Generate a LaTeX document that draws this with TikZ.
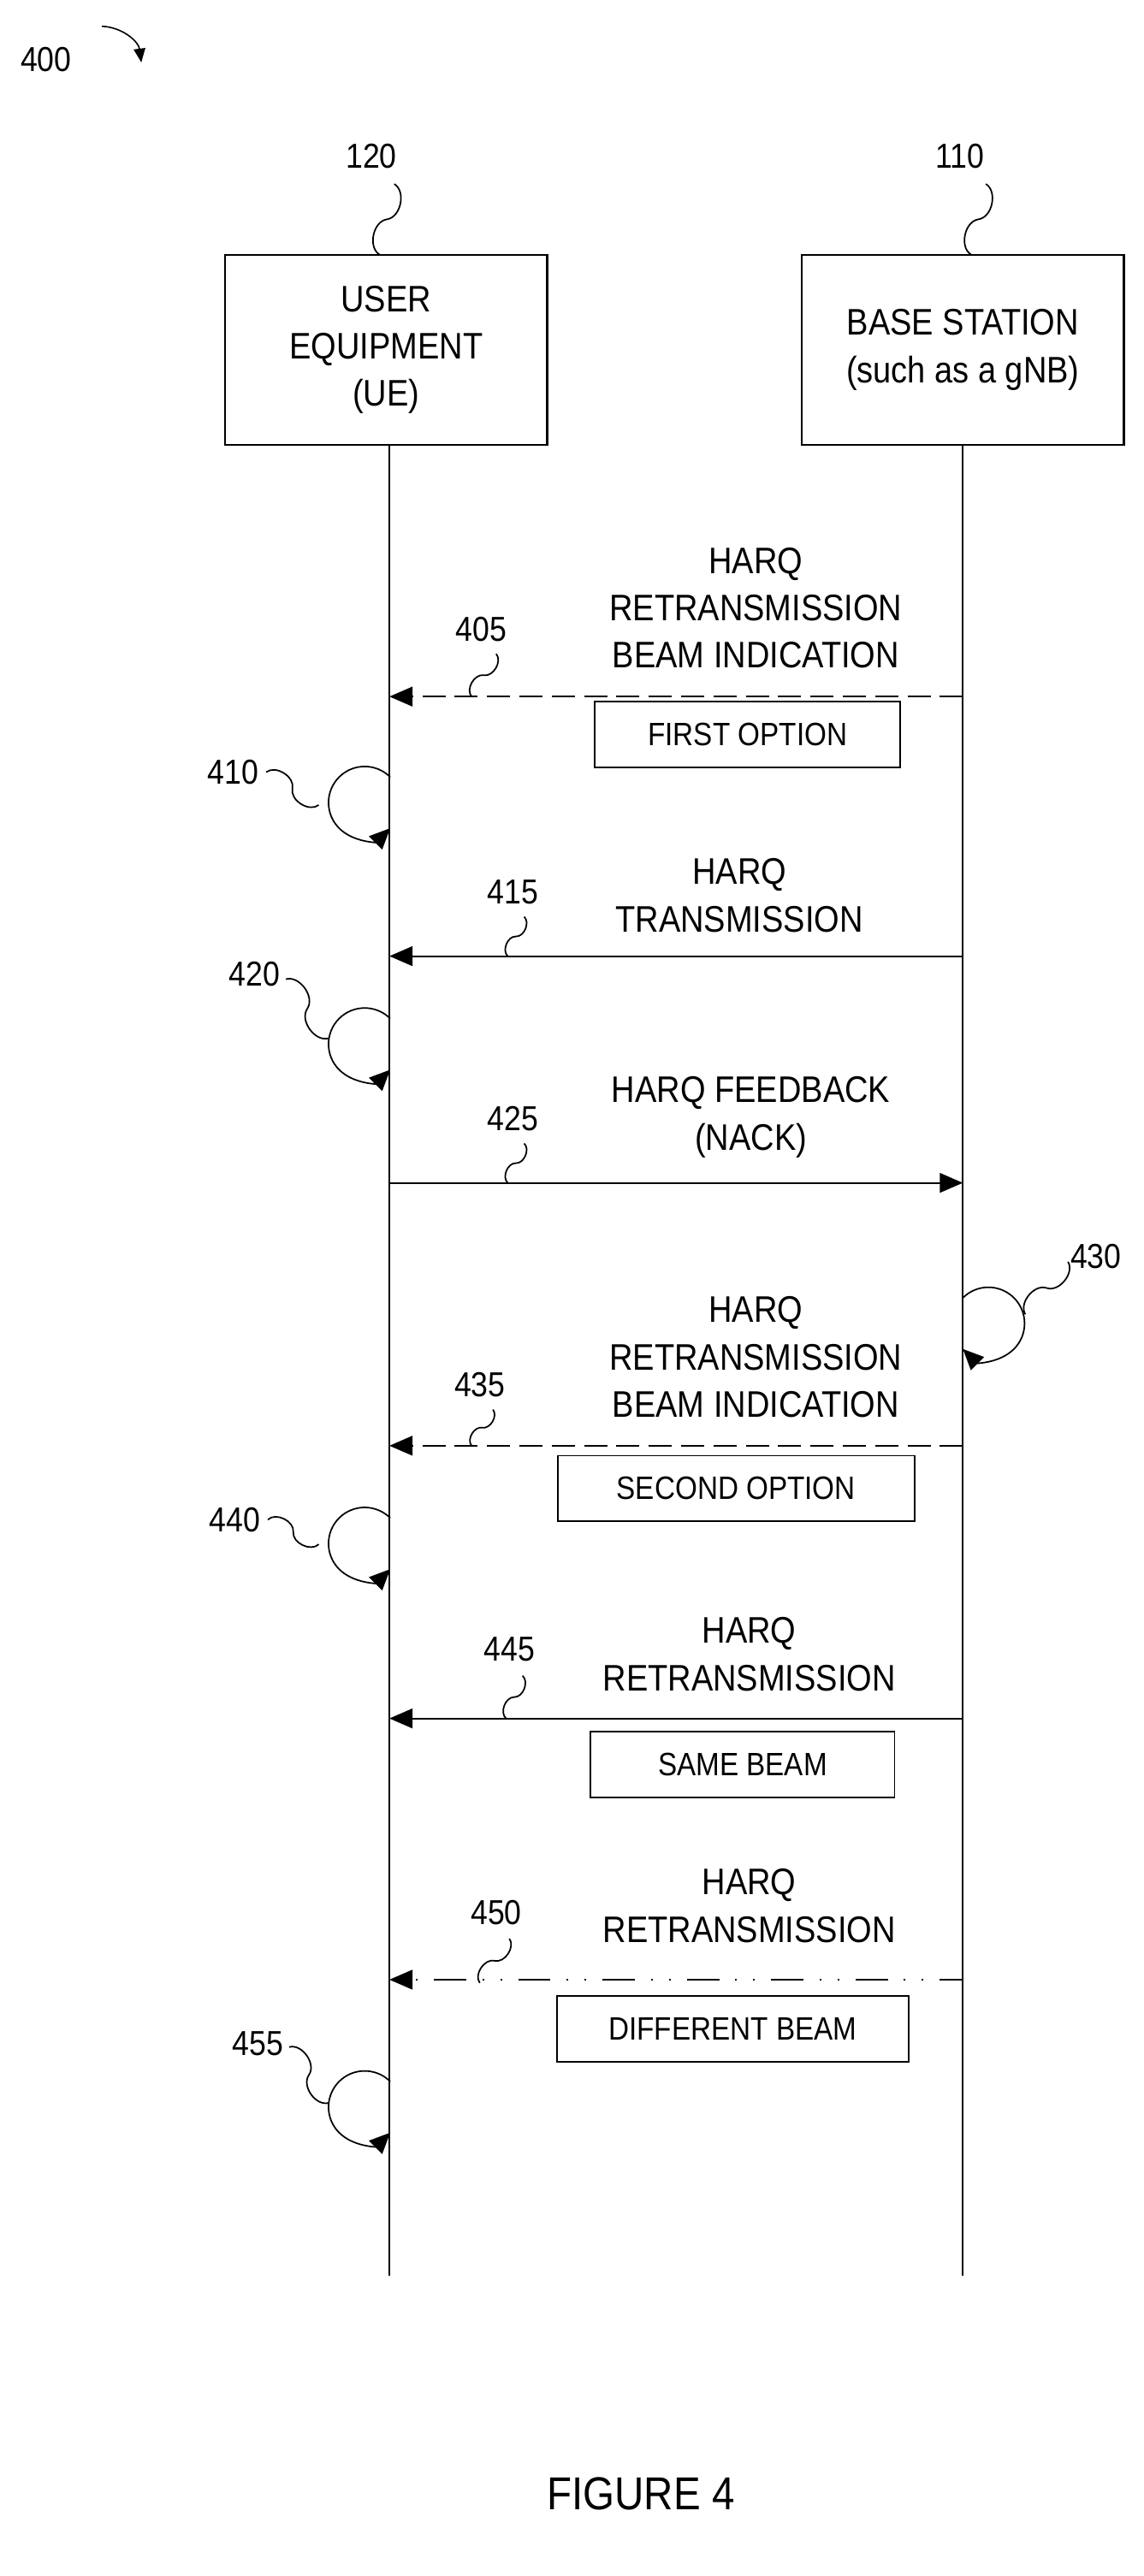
\documentclass[tikz,border=0pt]{standalone}
\usepackage{fontspec}
\setmainfont{Liberation Sans}[FakeStretch=0.88]
\usetikzlibrary{arrows.meta,positioning}
\tikzset{
  actor/.style={draw,line width=1.6pt,minimum width=196*0.05cm,minimum height=116*0.05cm,align=center,font=\fontsize{32}{41}\selectfont},
  life/.style={line width=1.4pt},
  msg/.style={line width=1.4pt,-{Triangle[length=20pt,width=17pt]}},
  txt/.style={align=center,font=\fontsize{32}{41}\selectfont,inner sep=0pt},
  opt/.style={draw,line width=1.3pt,minimum height=40*0.05cm,font=\fontsize{28}{34}\selectfont,text depth=0pt},
  num/.style={font=\fontsize{30}{34}\selectfont,inner sep=0pt},
  lead/.style={line width=1.3pt},
  self/.style={line width=1.3pt,-{Triangle[length=18pt,width=16pt]}}
}
\newcommand{\squig}[2]{\draw[lead] (#1) to[bend left=70] ($(#1)!0.5!(#2)$) to[bend right=70] (#2);}
\usetikzlibrary{calc}
\begin{document}
\begin{tikzpicture}[x=0.05cm,y=0.05cm]
    \useasboundingbox (0,0) rectangle (696,-1568);
    % actors
    \node[actor] (ue) at (235,-213) {USER\\EQUIPMENT\\(UE)};
    \node[actor] (bs) at (586,-213) {BASE STATION\\(such as a gNB)};
    \coordinate (ue-end) at (237,-1385);
    \coordinate (bs-end) at (586,-1385);
    \draw[life] (ue.south -| ue-end) -- (ue-end);
    \draw[life] (bs.south) -- (bs-end);
    \node[num] (n400) at (28,-36) {400};
    \draw[line width=1.2pt,-{Triangle[length=12pt,width=10pt]}] (62,-16) to[bend left=40] (86,-38);
    \node[num] (n120) at (226,-95) {120};
    \squig{240,-112}{231,-155}
    \node[num] (n110) at (584,-95) {110};
    \squig{600,-112}{591,-155}
    % 405
    \coordinate (m405-bs) at (586,-424);
    \coordinate (m405-ue) at (237,-424);
    \node[txt] (t405) at (460,-370) {HARQ\\RETRANSMISSION\\BEAM INDICATION};
    \draw[msg,dash pattern=on 20pt off 8pt] (m405-bs) -- (m405-ue);
    \node[opt,minimum width=186*0.05cm] (o405) at (455,-447) {FIRST OPTION};
    \node[num] (n405) at (293,-383) {405};
    \squig{302,-398}{287,-424}
    % 410
    \draw[self] (237.5,-473) arc[start angle=45,end angle=315,radius=22];
    \node[num] (n410) at (142,-470) {410};
    \squig{162,-470}{194,-490}
    % 415
    \coordinate (m415-bs) at (586,-582);
    \coordinate (m415-ue) at (237,-582);
    \node[txt] (t415) at (450,-545) {HARQ\\TRANSMISSION};
    \draw[msg] (m415-bs) -- (m415-ue);
    \node[num] (n415) at (312,-543) {415};
    \squig{319,-558}{309,-582}
    % 420
    \draw[self] (237.5,-620) arc[start angle=45,end angle=315,radius=22];
    \node[num] (n420) at (155,-593) {420};
    \squig{174,-596}{200,-632}
    % 425
    \coordinate (m425-ue) at (237,-720);
    \coordinate (m425-bs) at (586,-720);
    \node[txt] (t425) at (457,-680) {HARQ FEEDBACK\\(NACK)};
    \draw[msg] (m425-ue) -- (m425-bs);
    \node[num] (n425) at (312,-681) {425};
    \squig{319,-696}{309,-720}
    % 430
    \draw[self] (586,-790) arc[start angle=135,end angle=-135,radius=22];
    \node[num] (n430) at (667,-765) {430};
    \squig{650,-768}{624,-800}
    % 435
    \coordinate (m435-bs) at (586,-880);
    \coordinate (m435-ue) at (237,-880);
    \node[txt] (t435) at (460,-826) {HARQ\\RETRANSMISSION\\BEAM INDICATION};
    \draw[msg,dash pattern=on 20pt off 8pt] (m435-bs) -- (m435-ue);
    \node[opt,minimum width=217*0.05cm] (o435) at (448,-906) {SECOND OPTION};
    \node[num] (n435) at (292,-843) {435};
    \squig{300,-858}{287,-880}
    % 440
    \draw[self] (237.5,-924) arc[start angle=45,end angle=315,radius=22];
    \node[num] (n440) at (143,-925) {440};
    \squig{163,-925}{194,-940}
    % 445
    \coordinate (m445-bs) at (586,-1046);
    \coordinate (m445-ue) at (237,-1046);
    \node[txt] (t445) at (456,-1007) {HARQ\\RETRANSMISSION};
    \draw[msg] (m445-bs) -- (m445-ue);
    \node[opt,minimum width=185*0.05cm] (o445) at (452,-1074) {SAME BEAM};
    \node[num] (n445) at (310,-1004) {445};
    \squig{318,-1020}{308,-1046}
    % 450
    \coordinate (m450-bs) at (586,-1205);
    \coordinate (m450-ue) at (237,-1205);
    \node[txt] (t450) at (456,-1160) {HARQ\\RETRANSMISSION};
    \draw[msg,dash pattern=on 28pt off 14pt on 1.5pt off 14pt on 1.5pt off 14pt,dash phase=8pt] (m450-bs) -- (m450-ue);
    \node[opt,minimum width=214*0.05cm] (o450) at (446,-1235) {DIFFERENT BEAM};
    \node[num] (n450) at (302,-1164) {450};
    \squig{310,-1180}{292,-1207}
    % 455
    \draw[self] (237.5,-1267) arc[start angle=45,end angle=315,radius=22];
    \node[num] (n455) at (157,-1244) {455};
    \squig{176,-1246}{200,-1280}
    \node[font=\fontsize{40}{46}\selectfont] (fig) at (390,-1518) {FIGURE 4};
\end{tikzpicture}
\end{document}
